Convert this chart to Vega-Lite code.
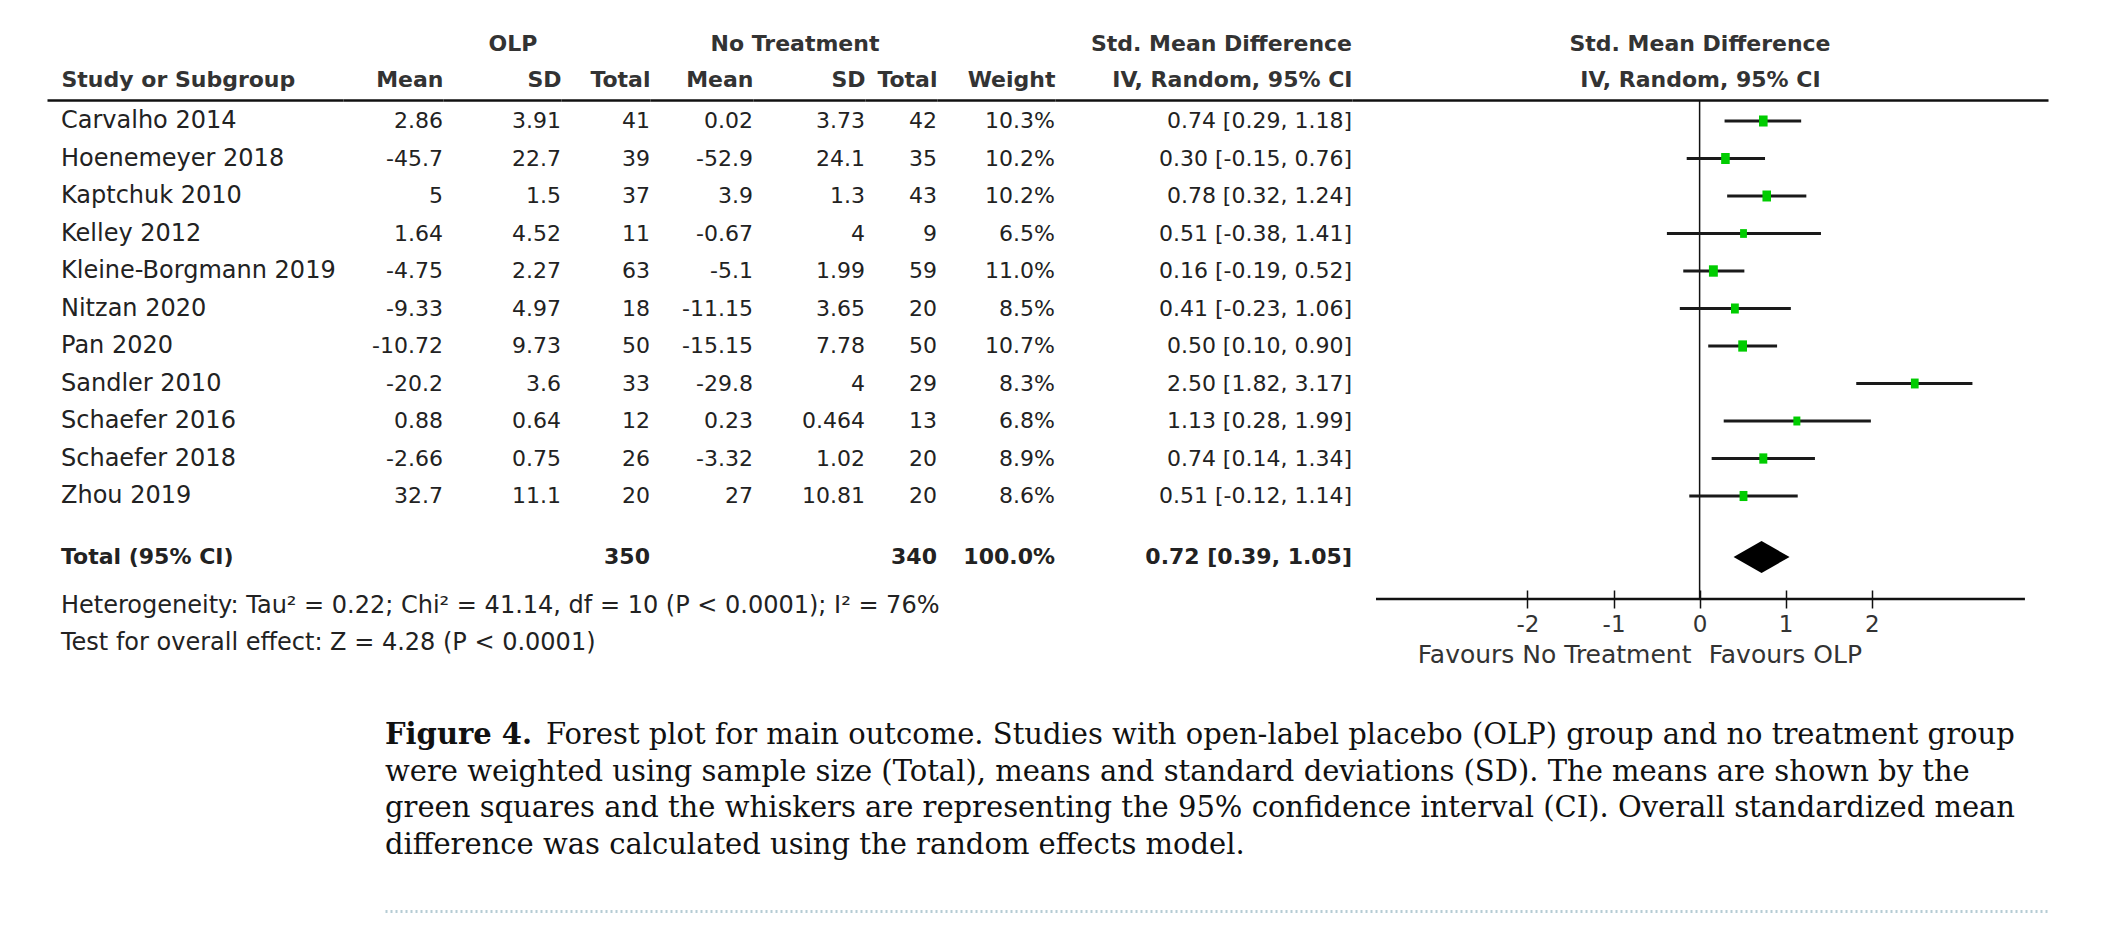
{
  "$schema": "https://vega.github.io/schema/vega-lite/v6.json",
  "background": "white",
  "padding": {"left": 47, "top": 33, "right": 10, "bottom": 10},
  "datasets": {
    "studies": [
      {"study": "Carvalho 2014", "olp_mean": 2.86, "olp_sd": 3.91, "olp_total": 41, "nt_mean": 0.02, "nt_sd": 3.73, "nt_total": 42, "weight": 0.103, "smd": 0.74, "lo": 0.29, "hi": 1.18, "ci": "0.74 [0.29, 1.18]"},
      {"study": "Hoenemeyer 2018", "olp_mean": -45.7, "olp_sd": 22.7, "olp_total": 39, "nt_mean": -52.9, "nt_sd": 24.1, "nt_total": 35, "weight": 0.102, "smd": 0.30, "lo": -0.15, "hi": 0.76, "ci": "0.30 [-0.15, 0.76]"},
      {"study": "Kaptchuk 2010", "olp_mean": 5, "olp_sd": 1.5, "olp_total": 37, "nt_mean": 3.9, "nt_sd": 1.3, "nt_total": 43, "weight": 0.102, "smd": 0.78, "lo": 0.32, "hi": 1.24, "ci": "0.78 [0.32, 1.24]"},
      {"study": "Kelley 2012", "olp_mean": 1.64, "olp_sd": 4.52, "olp_total": 11, "nt_mean": -0.67, "nt_sd": 4, "nt_total": 9, "weight": 0.065, "smd": 0.51, "lo": -0.38, "hi": 1.41, "ci": "0.51 [-0.38, 1.41]"},
      {"study": "Kleine-Borgmann 2019", "olp_mean": -4.75, "olp_sd": 2.27, "olp_total": 63, "nt_mean": -5.1, "nt_sd": 1.99, "nt_total": 59, "weight": 0.110, "smd": 0.16, "lo": -0.19, "hi": 0.52, "ci": "0.16 [-0.19, 0.52]"},
      {"study": "Nitzan 2020", "olp_mean": -9.33, "olp_sd": 4.97, "olp_total": 18, "nt_mean": -11.15, "nt_sd": 3.65, "nt_total": 20, "weight": 0.085, "smd": 0.41, "lo": -0.23, "hi": 1.06, "ci": "0.41 [-0.23, 1.06]"},
      {"study": "Pan 2020", "olp_mean": -10.72, "olp_sd": 9.73, "olp_total": 50, "nt_mean": -15.15, "nt_sd": 7.78, "nt_total": 50, "weight": 0.107, "smd": 0.50, "lo": 0.10, "hi": 0.90, "ci": "0.50 [0.10, 0.90]"},
      {"study": "Sandler 2010", "olp_mean": -20.2, "olp_sd": 3.6, "olp_total": 33, "nt_mean": -29.8, "nt_sd": 4, "nt_total": 29, "weight": 0.083, "smd": 2.50, "lo": 1.82, "hi": 3.17, "ci": "2.50 [1.82, 3.17]"},
      {"study": "Schaefer 2016", "olp_mean": 0.88, "olp_sd": 0.64, "olp_total": 12, "nt_mean": 0.23, "nt_sd": 0.464, "nt_total": 13, "weight": 0.068, "smd": 1.13, "lo": 0.28, "hi": 1.99, "ci": "1.13 [0.28, 1.99]"},
      {"study": "Schaefer 2018", "olp_mean": -2.66, "olp_sd": 0.75, "olp_total": 26, "nt_mean": -3.32, "nt_sd": 1.02, "nt_total": 20, "weight": 0.089, "smd": 0.74, "lo": 0.14, "hi": 1.34, "ci": "0.74 [0.14, 1.34]"},
      {"study": "Zhou 2019", "olp_mean": 32.7, "olp_sd": 11.1, "olp_total": 20, "nt_mean": 27, "nt_sd": 10.81, "nt_total": 20, "weight": 0.086, "smd": 0.51, "lo": -0.12, "hi": 1.14, "ci": "0.51 [-0.12, 1.14]"}
    ],
    "total": [
      {"study": "Total (95% CI)", "olp_total": 350, "nt_total": 340, "weight": 1.0, "smd": 0.72, "lo": 0.39, "hi": 1.05, "ci": "0.72 [0.39, 1.05]"}
    ],
    "caption": [
      {"line": 1, "part": "label", "text": "Figure 4."},
      {"line": 1, "part": "first", "text": "Forest plot for main outcome. Studies with open-label placebo (OLP) group and no treatment group"},
      {"line": 2, "part": "body", "text": "were weighted using sample size (Total), means and standard deviations (SD). The means are shown by the"},
      {"line": 3, "part": "body", "text": "green squares and the whiskers are representing the 95% confidence interval (CI). Overall standardized mean"},
      {"line": 4, "part": "body", "text": "difference was calculated using the random effects model."}
    ],
    "one": [{"k": 1}]
  },
  "spacing": 34,
  "vconcat": [
    {
      "bounds": "flush",
      "spacing": 0,
      "hconcat": [
        {
          "width": 296, "height": 499,
          "title": {"text": ["Heterogeneity: Tau² = 0.22; Chi² = 41.14, df = 10 (P < 0.0001); I² = 76%", "Test for overall effect: Z = 4.28 (P < 0.0001)"], "orient": "bottom", "anchor": "start", "dx": 14, "offset": -5, "fontWeight": "normal", "fontSize": 24, "color": "#222", "lineHeight": 37},
          "layer": [
            {"data": {"name": "studies"}, "mark": {"type": "text", "align": "left", "dx": 14, "fontSize": 24},
             "encoding": {
               "x": {"datum": 0, "type": "quantitative", "scale": {"domain": [0, 1]}, "axis": {"orient": "top", "title": "Study or Subgroup", "titleX": 14, "titleAlign": "left", "titleAnchor": "start"}},
               "y": {"field": "study", "type": "nominal", "scale": {"type": "point", "padding": 0, "range": [21, 471], "domain": ["Carvalho 2014", "Hoenemeyer 2018", "Kaptchuk 2010", "Kelley 2012", "Kleine-Borgmann 2019", "Nitzan 2020", "Pan 2020", "Sandler 2010", "Schaefer 2016", "Schaefer 2018", "Zhou 2019", " ", "Total (95% CI)"]}, "axis": null},
               "text": {"field": "study", "type": "nominal"}}},
            {"data": {"name": "total"}, "mark": {"type": "text", "align": "left", "dx": 14, "dy": -14, "fontWeight": "bold"},
             "encoding": {"x": {"datum": 0, "type": "quantitative"}, "y": {"field": "study", "type": "nominal"}, "text": {"field": "study", "type": "nominal"}}}
          ]
        },
        {
          "width": 100, "height": 499,
          "data": {"name": "studies"},
          "mark": {"type": "text", "align": "right"},
          "encoding": {
            "x": {"datum": 1, "type": "quantitative", "scale": {"domain": [0, 1]}, "axis": {"orient": "top", "title": "Mean"}},
            "y": {"field": "study", "type": "nominal", "scale": {"type": "point", "padding": 0, "range": [21, 471], "domain": ["Carvalho 2014", "Hoenemeyer 2018", "Kaptchuk 2010", "Kelley 2012", "Kleine-Borgmann 2019", "Nitzan 2020", "Pan 2020", "Sandler 2010", "Schaefer 2016", "Schaefer 2018", "Zhou 2019", " ", "Total (95% CI)"]}, "axis": null},
            "text": {"field": "olp_mean", "type": "nominal"}}
        },
        {
          "width": 118, "height": 499,
          "title": {"text": "OLP", "anchor": "middle", "dx": 11},
          "data": {"name": "studies"},
          "mark": {"type": "text", "align": "right"},
          "encoding": {
            "x": {"datum": 1, "type": "quantitative", "scale": {"domain": [0, 1]}, "axis": {"orient": "top", "title": "SD"}},
            "y": {"field": "study", "type": "nominal", "scale": {"type": "point", "padding": 0, "range": [21, 471], "domain": ["Carvalho 2014", "Hoenemeyer 2018", "Kaptchuk 2010", "Kelley 2012", "Kleine-Borgmann 2019", "Nitzan 2020", "Pan 2020", "Sandler 2010", "Schaefer 2016", "Schaefer 2018", "Zhou 2019", " ", "Total (95% CI)"]}, "axis": null},
            "text": {"field": "olp_sd", "type": "nominal"}}
        },
        {
          "width": 89, "height": 499,
          "layer": [
            {"data": {"name": "studies"}, "mark": {"type": "text", "align": "right"},
             "encoding": {
               "x": {"datum": 1, "type": "quantitative", "scale": {"domain": [0, 1]}, "axis": {"orient": "top", "title": "Total"}},
               "y": {"field": "study", "type": "nominal", "scale": {"type": "point", "padding": 0, "range": [21, 471], "domain": ["Carvalho 2014", "Hoenemeyer 2018", "Kaptchuk 2010", "Kelley 2012", "Kleine-Borgmann 2019", "Nitzan 2020", "Pan 2020", "Sandler 2010", "Schaefer 2016", "Schaefer 2018", "Zhou 2019", " ", "Total (95% CI)"]}, "axis": null},
               "text": {"field": "olp_total", "type": "nominal"}}},
            {"data": {"name": "total"}, "mark": {"type": "text", "align": "right", "dy": -14, "fontWeight": "bold"},
             "encoding": {"x": {"datum": 1, "type": "quantitative"}, "y": {"field": "study", "type": "nominal"}, "text": {"field": "olp_total", "type": "nominal"}}}
          ]
        },
        {
          "width": 103, "height": 499,
          "data": {"name": "studies"},
          "mark": {"type": "text", "align": "right"},
          "encoding": {
            "x": {"datum": 1, "type": "quantitative", "scale": {"domain": [0, 1]}, "axis": {"orient": "top", "title": "Mean"}},
            "y": {"field": "study", "type": "nominal", "scale": {"type": "point", "padding": 0, "range": [21, 471], "domain": ["Carvalho 2014", "Hoenemeyer 2018", "Kaptchuk 2010", "Kelley 2012", "Kleine-Borgmann 2019", "Nitzan 2020", "Pan 2020", "Sandler 2010", "Schaefer 2016", "Schaefer 2018", "Zhou 2019", " ", "Total (95% CI)"]}, "axis": null},
            "text": {"field": "nt_mean", "type": "nominal"}}
        },
        {
          "width": 112, "height": 499,
          "title": {"text": "No Treatment", "anchor": "middle", "dx": -14},
          "data": {"name": "studies"},
          "mark": {"type": "text", "align": "right"},
          "encoding": {
            "x": {"datum": 1, "type": "quantitative", "scale": {"domain": [0, 1]}, "axis": {"orient": "top", "title": "SD"}},
            "y": {"field": "study", "type": "nominal", "scale": {"type": "point", "padding": 0, "range": [21, 471], "domain": ["Carvalho 2014", "Hoenemeyer 2018", "Kaptchuk 2010", "Kelley 2012", "Kleine-Borgmann 2019", "Nitzan 2020", "Pan 2020", "Sandler 2010", "Schaefer 2016", "Schaefer 2018", "Zhou 2019", " ", "Total (95% CI)"]}, "axis": null},
            "text": {"field": "nt_sd", "type": "nominal"}}
        },
        {
          "width": 72, "height": 499,
          "layer": [
            {"data": {"name": "studies"}, "mark": {"type": "text", "align": "right"},
             "encoding": {
               "x": {"datum": 1, "type": "quantitative", "scale": {"domain": [0, 1]}, "axis": {"orient": "top", "title": "Total"}},
               "y": {"field": "study", "type": "nominal", "scale": {"type": "point", "padding": 0, "range": [21, 471], "domain": ["Carvalho 2014", "Hoenemeyer 2018", "Kaptchuk 2010", "Kelley 2012", "Kleine-Borgmann 2019", "Nitzan 2020", "Pan 2020", "Sandler 2010", "Schaefer 2016", "Schaefer 2018", "Zhou 2019", " ", "Total (95% CI)"]}, "axis": null},
               "text": {"field": "nt_total", "type": "nominal"}}},
            {"data": {"name": "total"}, "mark": {"type": "text", "align": "right", "dy": -14, "fontWeight": "bold"},
             "encoding": {"x": {"datum": 1, "type": "quantitative"}, "y": {"field": "study", "type": "nominal"}, "text": {"field": "nt_total", "type": "nominal"}}}
          ]
        },
        {
          "width": 118, "height": 499,
          "layer": [
            {"data": {"name": "studies"}, "mark": {"type": "text", "align": "right"},
             "encoding": {
               "x": {"datum": 1, "type": "quantitative", "scale": {"domain": [0, 1]}, "axis": {"orient": "top", "title": "Weight"}},
               "y": {"field": "study", "type": "nominal", "scale": {"type": "point", "padding": 0, "range": [21, 471], "domain": ["Carvalho 2014", "Hoenemeyer 2018", "Kaptchuk 2010", "Kelley 2012", "Kleine-Borgmann 2019", "Nitzan 2020", "Pan 2020", "Sandler 2010", "Schaefer 2016", "Schaefer 2018", "Zhou 2019", " ", "Total (95% CI)"]}, "axis": null},
               "text": {"field": "weight", "type": "quantitative", "format": ".1%"}}},
            {"data": {"name": "total"}, "mark": {"type": "text", "align": "right", "dy": -14, "fontWeight": "bold"},
             "encoding": {"x": {"datum": 1, "type": "quantitative"}, "y": {"field": "study", "type": "nominal"}, "text": {"field": "weight", "type": "quantitative", "format": ".1%"}}}
          ]
        },
        {
          "width": 297, "height": 499,
          "title": {"text": "Std. Mean Difference", "anchor": "end"},
          "layer": [
            {"data": {"name": "studies"}, "mark": {"type": "text", "align": "right"},
             "encoding": {
               "x": {"datum": 1, "type": "quantitative", "scale": {"domain": [0, 1]}, "axis": {"orient": "top", "title": "IV, Random, 95% CI"}},
               "y": {"field": "study", "type": "nominal", "scale": {"type": "point", "padding": 0, "range": [21, 471], "domain": ["Carvalho 2014", "Hoenemeyer 2018", "Kaptchuk 2010", "Kelley 2012", "Kleine-Borgmann 2019", "Nitzan 2020", "Pan 2020", "Sandler 2010", "Schaefer 2016", "Schaefer 2018", "Zhou 2019", " ", "Total (95% CI)"]}, "axis": null},
               "text": {"field": "ci", "type": "nominal"}}},
            {"data": {"name": "total"}, "mark": {"type": "text", "align": "right", "dy": -14, "fontWeight": "bold"},
             "encoding": {"x": {"datum": 1, "type": "quantitative"}, "y": {"field": "study", "type": "nominal"}, "text": {"field": "ci", "type": "nominal"}}}
          ]
        },
        {
          "width": 696, "height": 499,
          "title": {"text": "Std. Mean Difference", "anchor": "middle"},
          "layer": [
            {"data": {"name": "one"}, "mark": {"type": "rule", "color": "#111", "strokeWidth": 1.5},
             "encoding": {"x": {"datum": 0, "type": "quantitative", "scale": {"domain": [-4.039, 4.048], "nice": false, "zero": false}, "axis": {"orient": "top", "title": "IV, Random, 95% CI", "titleAnchor": "middle"}}}},
            {"data": {"name": "studies"}, "mark": {"type": "rule", "color": "#1a1a1a", "strokeWidth": 2.8},
             "encoding": {
               "x": {"field": "lo", "type": "quantitative", "axis": {"orient": "bottom", "values": [-0.1, 0.1], "labelExpr": "datum.value < 0 ? 'Favours No Treatment' : 'Favours OLP'", "labelAlign": {"condition": {"test": "datum.value < 0", "value": "right"}, "value": "left"}, "domain": false, "ticks": false, "tickSize": 0, "labelPadding": 43, "labelFlush": false, "labelOverlap": false, "labelBound": false, "labelLimit": 0, "labelFontSize": 25, "labelColor": "#333", "title": null}},
               "x2": {"field": "hi"},
               "y": {"field": "study", "type": "nominal", "scale": {"type": "point", "padding": 0, "range": [21, 471], "domain": ["Carvalho 2014", "Hoenemeyer 2018", "Kaptchuk 2010", "Kelley 2012", "Kleine-Borgmann 2019", "Nitzan 2020", "Pan 2020", "Sandler 2010", "Schaefer 2016", "Schaefer 2018", "Zhou 2019", " ", "Total (95% CI)"]}, "axis": null}}},
            {"data": {"name": "studies"}, "mark": {"type": "point", "shape": "M-0.78,-1L0.78,-1L0.78,1L-0.78,1Z", "filled": true, "color": "#00cc00", "opacity": 1},
             "encoding": {
               "x": {"field": "smd", "type": "quantitative", "axis": {"orient": "bottom", "offset": -9, "values": [-2, -1, 0, 1, 2], "labelExpr": "'' + datum.value", "domain": false, "ticks": true, "tickSize": 18, "tickWidth": 1.5, "tickColor": "#111", "labelPadding": 5, "labelFontSize": 23, "labelColor": "#333", "labelFlush": false, "title": null}},
               "y": {"field": "study", "type": "nominal"},
               "size": {"field": "weight", "type": "quantitative", "scale": {"domain": [0, 0.11], "range": [0, 130]}, "legend": null}}},
            {"data": {"name": "total"}, "mark": {"type": "point", "shape": "M-1.75,-0.875L0,-1.875L1.75,-0.875L0,0.125Z", "filled": true, "color": "#000", "opacity": 1, "size": 1024},
             "encoding": {"x": {"field": "smd", "type": "quantitative", "axis": null}, "y": {"field": "study", "type": "nominal"}}},
            {"data": {"name": "one"}, "mark": {"type": "rule", "color": "#111", "strokeWidth": 2.4},
             "encoding": {"x": {"datum": -3.76, "type": "quantitative", "axis": null}, "x2": {"datum": 3.78}, "y": {"value": "height"}}}
          ],
          "resolve": {"axis": {"x": "independent"}}
        }
      ]
    },
    {
      "width": 2001, "height": 160,
      "data": {"name": "caption"},
      "layer": [
        {"transform": [{"filter": "datum.part == 'label'"}],
         "mark": {"type": "text", "align": "left", "font": "DejaVu Serif", "fontSize": 29, "fontWeight": "bold", "color": "#111"},
         "encoding": {
           "x": {"datum": 0, "type": "quantitative", "scale": {"domain": [0, 1], "range": [338, 2001]}, "axis": {"orient": "bottom", "offset": 50, "domain": true, "domainColor": "#b5ccd4", "domainWidth": 3, "domainDash": [2, 3], "ticks": false, "labels": false, "title": null}},
           "y": {"field": "line", "type": "ordinal", "scale": {"type": "point", "padding": 0, "range": [34, 144]}, "axis": null},
           "text": {"field": "text", "type": "nominal"}}},
        {"transform": [{"filter": "datum.part == 'first'"}],
         "mark": {"type": "text", "align": "left", "dx": 161, "font": "DejaVu Serif", "fontSize": 29, "color": "#111"},
         "encoding": {"x": {"datum": 0, "type": "quantitative"}, "y": {"field": "line", "type": "ordinal"}, "text": {"field": "text", "type": "nominal"}}},
        {"transform": [{"filter": "datum.part == 'body'"}],
         "mark": {"type": "text", "align": "left", "font": "DejaVu Serif", "fontSize": 29, "color": "#111"},
         "encoding": {"x": {"datum": 0, "type": "quantitative"}, "y": {"field": "line", "type": "ordinal"}, "text": {"field": "text", "type": "nominal"}}}
      ]
    }
  ],
  "config": {
    "view": {"stroke": null},
    "font": "DejaVu Sans",
    "text": {"font": "DejaVu Sans", "fontSize": 22, "color": "#222", "baseline": "middle"},
    "title": {"font": "DejaVu Sans", "fontSize": 22, "fontWeight": "bold", "color": "#333", "offset": 12},
    "axis": {"labelFont": "DejaVu Sans", "titleFont": "DejaVu Sans", "grid": false},
    "axisTop": {"domain": true, "domainColor": "#111", "domainWidth": 2.6, "domainCap": "butt", "ticks": false, "labels": false, "titleFontSize": 22, "titleFontWeight": "bold", "titleColor": "#333", "titlePadding": 9, "titleAnchor": "end"}
  }
}
